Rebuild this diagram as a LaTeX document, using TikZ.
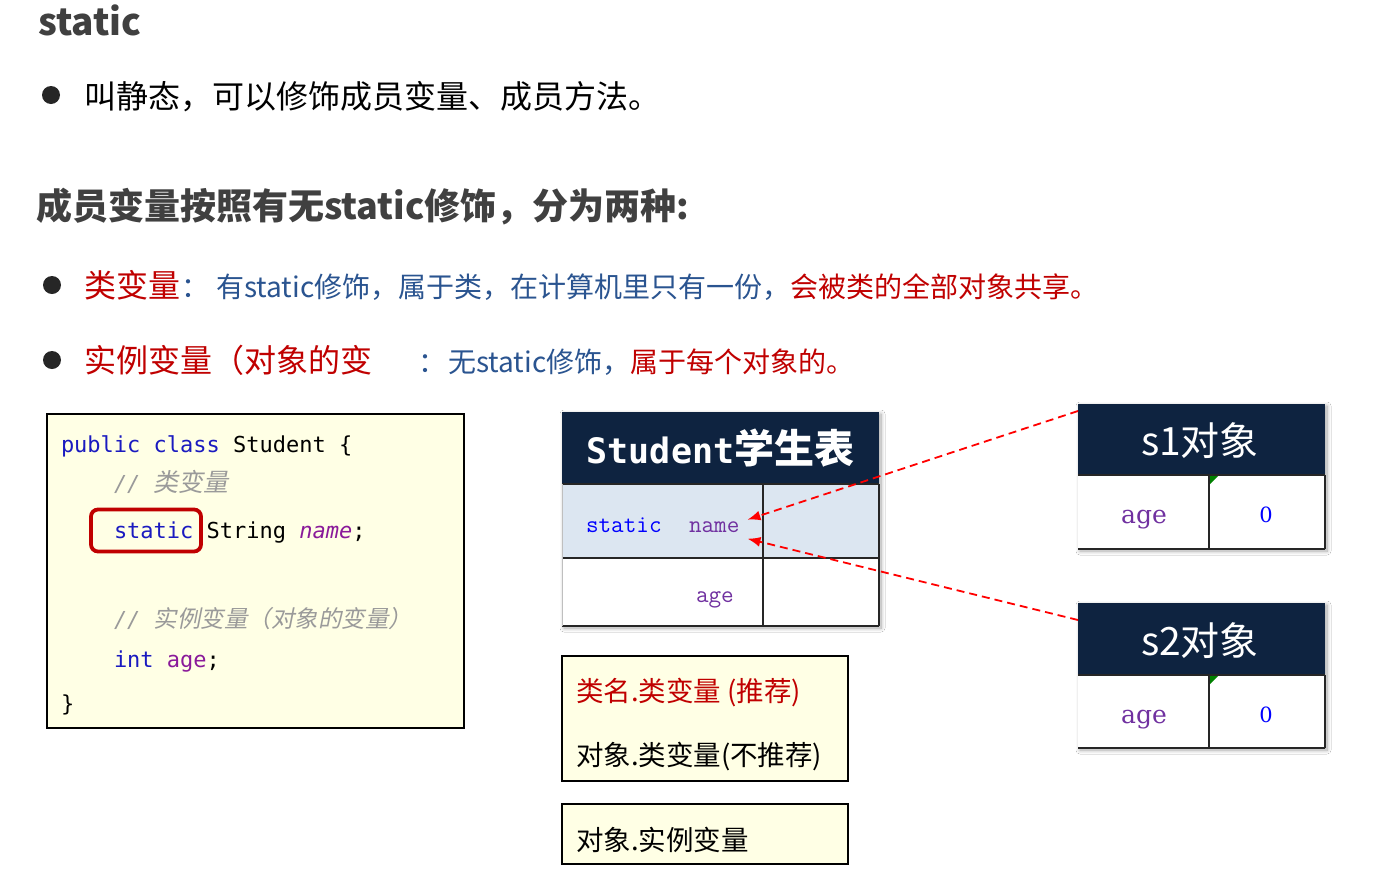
\documentclass[tikz,border=0pt]{standalone}
\usepackage{fontspec}
\setmainfont{Noto Sans CJK SC}
\newfontfamily\cjkslant{Noto Sans CJK SC}[FakeSlant=0.2]
\newfontfamily\codefont{DejaVu Sans Mono}
\newfontfamily\tabmono{Latin Modern Mono}
\newfontfamily\serifdv{DejaVu Serif}
\usetikzlibrary{arrows.meta,shadows.blur}
\newcommand\setfs[1]{\fontsize{#1pt}{#1pt}\selectfont}
\definecolor{titlegray}{HTML}{404040}
\definecolor{bulletc}{HTML}{262626}
\definecolor{hlred}{HTML}{C00000}
\definecolor{txtblue}{HTML}{2A5490}
\definecolor{kwblue}{HTML}{1A1AC0}
\definecolor{fieldpurple}{HTML}{8A1A9A}
\definecolor{cmtgray}{HTML}{9A9A9A}
\definecolor{noteyellow}{HTML}{FFFFE5}
\definecolor{navy}{HTML}{0E2340}
\definecolor{rowblue}{HTML}{DCE6F1}
\definecolor{tabblue}{HTML}{0000FF}
\definecolor{tabpurple}{HTML}{7030A0}
\definecolor{arrowred}{HTML}{FF0000}
\definecolor{gridc}{HTML}{262626}
\definecolor{markgreen}{HTML}{008000}
\tikzset{
  txt/.style={inner sep=0pt, outer sep=0pt, anchor=base west},
  bulletdot/.style={circle, fill=bulletc, minimum size=18pt, inner sep=0pt},
  notebox/.style={draw=black, line width=2pt, fill=noteyellow, inner sep=0pt},
  codeline/.style={txt, font={\codefont\setfs{22}}},
  tabbox/.style={fill=white, inner sep=0pt, outer sep=0pt,
     blur shadow={shadow xshift=2pt, shadow yshift=-2pt, shadow blur radius=4pt, shadow blur steps=12, shadow opacity=35}},
  hdrcell/.style={fill=navy, inner sep=0pt, outer sep=0pt},
  gridline/.style={draw=gridc, line width=1.6pt},
  refarrow/.style={draw=arrowred, line width=1.8pt, dash pattern=on 8pt off 5pt, -{Latex[length=13pt,width=10pt]}},
}
\begin{document}
\begin{tikzpicture}[x=1pt,y=-1pt]
\useasboundingbox[fill=white] (0,0) rectangle (1389,873);
% title and bullets
\node[txt, font={\bfseries\setfs{37}}, text=titlegray] (title) at (38,35) {static};
\node[bulletdot] (b1) at (51,95) {};
\node[txt, font={\setfs{32}}, text=black] (l1) at (84,108) {叫静态，可以修饰成员变量、成员方法。};
\node[txt, font={\bfseries\setfs{36}}, text=titlegray] (head) at (36,219) {成员变量按照有无static修饰，分为两种:};
\node[bulletdot] (b2) at (52,285) {};
\node[txt, font={\setfs{32}}, text=hlred] (l3a) at (84,297) {类变量};
\node[txt, font={\setfs{28}}, text=txtblue] (l3b) at (181,297) {：};
\node[txt, font={\setfs{28}}, text=txtblue] (l3c) at (216,297) {有static修饰，属于类，在计算机里只有一份，};
\node[txt, font={\setfs{28}}, text=hlred] (l3d) at (l3c.base east) {会被类的全部对象共享。};
\node[bulletdot] (b3) at (52,360) {};
\node[txt, font={\setfs{32}}, text=hlred] (l4a) at (84,372) {实例变量（对象的变};
\node[txt, font={\setfs{28}}, text=txtblue] (l4b) at (418,372) {：};
\node[txt, font={\setfs{28}}, text=txtblue] (l4c) at (448,372) {无static修饰，};
\node[txt, font={\setfs{28}}, text=hlred] (l4d) at (l4c.base east) {属于每个对象的。};
% code box
\node[notebox, minimum width=417pt, minimum height=314pt, anchor=north west] (code) at (46,413) {};
\node[codeline] (c1) at (61,452) {{\color{kwblue}public class} Student \{};
\node[codeline, text=cmtgray] (c2) at (114,491) {\itshape //\ {\cjkslant\setfs{25}类变量}};
\node[codeline] (c3s) at (114,538) {{\color{kwblue}static}};
\node[codeline] (c3r) at (c3s.base east) {\ String {\color{fieldpurple}\itshape name};};
\node[draw=hlred, line width=3.8pt, rounded corners=7pt, inner sep=0pt, minimum width=110pt, minimum height=42pt] (hl) at (146,530.5) {};
\node[codeline, text=cmtgray] (c4) at (114,627) {\itshape //\ {\cjkslant\setfs{23.5}实例变量（对象的变量）}};
\node[codeline] (c5) at (114,667) {{\color{kwblue}int} {\color{fieldpurple}age};};
\node[codeline] (c6) at (61,711) {\}};
% Student table
\node[tabbox, minimum width=317pt, minimum height=214pt, anchor=north west] (stbox) at (562,412) {};
\node[hdrcell, minimum width=317pt, minimum height=72pt, anchor=north west] (sth) at (562,412) {};
\node[txt, anchor=base, text=white] (sttitle) at (720.5,463) {{\codefont\bfseries\setfs{35}Student}{\bfseries\setfs{40}学生表}};
\fill[rowblue] (562,484) rectangle (879,558);
\draw[gridline] (562,484) -- (879,484) (562,558) -- (879,558) (763,484) -- (763,626) (879,484) -- (879,626) (562,626) -- (879,626);
\draw[gray!50, line width=1pt] (562,484) -- (562,626);
\node[txt, font={\tabmono\setfs{24.5}}, text=tabblue] (stst) at (586,532) {static};
\node[txt, font={\tabmono\setfs{24.5}}, text=tabpurple] (stnm) at (689,532) {name};
\node[txt, font={\tabmono\setfs{24.5}}, text=tabpurple] (stage) at (696,602) {age};
% s1 table
\node[tabbox, minimum width=247pt, minimum height=145pt, anchor=north west] (s1box) at (1078,404) {};
\node[hdrcell, minimum width=247pt, minimum height=71pt, anchor=north west] (s1h) at (1078,404) {};
\node[txt, anchor=base, text=white, font={\setfs{39}}] (s1t) at (1200,455) {s1对象};
\draw[gridline] (1078,475) -- (1325,475) (1209,475) -- (1209,549) (1078,549) -- (1325,549) (1325,475) -- (1325,549);
\fill[markgreen] (1210,476) -- (1218,476) -- (1210,484) -- cycle;
\node[txt, anchor=base, font={\serifdv\setfs{25}}, text=tabpurple] (s1age) at (1144,523) {age};
\node[txt, anchor=base, font={\serifdv\setfs{21}}, text=tabblue] (s1val) at (1266,522) {0};
% s2 table
\node[tabbox, minimum width=247pt, minimum height=145pt, anchor=north west] (s2box) at (1078,603) {};
\node[hdrcell, minimum width=247pt, minimum height=72pt, anchor=north west] (s2h) at (1078,603) {};
\node[txt, anchor=base, text=white, font={\setfs{39}}] (s2t) at (1200,655) {s2对象};
\draw[gridline] (1078,675) -- (1325,675) (1209,675) -- (1209,748) (1078,748) -- (1325,748) (1325,675) -- (1325,748);
\fill[markgreen] (1210,676) -- (1218,676) -- (1210,684) -- cycle;
\node[txt, anchor=base, font={\serifdv\setfs{25}}, text=tabpurple] (s2age) at (1144,723) {age};
\node[txt, anchor=base, font={\serifdv\setfs{21}}, text=tabblue] (s2val) at (1266,722) {0};
% arrows
\draw[refarrow] ([yshift=-7pt]s1h.north west) -- ([xshift=8pt,yshift=7pt]stnm.east);
\draw[refarrow] ([yshift=-17pt]s2h.north west) -- ([xshift=8pt,yshift=-12pt]stnm.east);
% note boxes
\node[notebox, minimum width=286pt, minimum height=125pt, anchor=north west] (nb1) at (561,655) {};
\node[txt, font={\setfs{27.5}}, text=hlred] (nb1a) at (576,701) {类名.类变量 (推荐)};
\node[txt, font={\setfs{27.5}}, text=black] (nb1b) at (576,765) {对象.类变量(不推荐)};
\node[notebox, minimum width=286pt, minimum height=60pt, anchor=north west] (nb2) at (561,803) {};
\node[txt, font={\setfs{27.5}}, text=black] (nb2a) at (576,850) {对象.实例变量};
\end{tikzpicture}
\end{document}
